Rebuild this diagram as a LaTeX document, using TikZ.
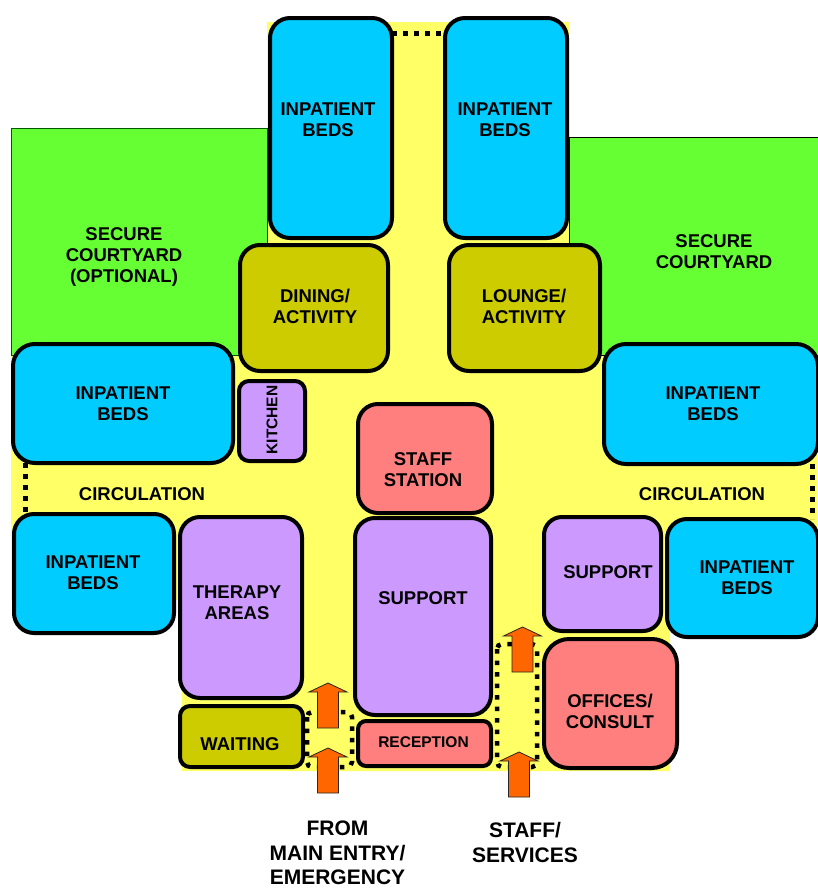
\documentclass[tikz,border=0pt]{standalone}
\usepackage{fontspec}
\setmainfont{Liberation Sans}
\definecolor{bedblue}{HTML}{00CCFF}
\definecolor{olivebox}{HTML}{CCCC00}
\definecolor{lilac}{HTML}{CC99FF}
\definecolor{salmon}{HTML}{FF7F7F}
\definecolor{corridor}{HTML}{FFFF66}
\definecolor{lawn}{HTML}{66FF33}
\definecolor{entryorange}{HTML}{FF6600}

% room box from its outer corners: name, style, x1, y1, x2, y2, corner radius
\newcommand\roombox[7]{%
  \node[#2, rounded corners=#7, minimum width={#5-#3-4}, minimum height={#6-#4-4}]
    (#1) at ({(#3+#5)/2},{(#4+#6)/2}) {};}

\tikzset{
  room/.style={draw=black, line width=4pt, inner sep=0pt, outer sep=0pt},
  bedroom/.style={room, fill=bedblue},
  dayroom/.style={room, fill=olivebox},
  suproom/.style={room, fill=lilac},
  staffroom/.style={room, fill=salmon},
  lbl/.style={font=\fontsize{18.5}{21}\selectfont\bfseries, align=center, inner sep=0pt},
  smalllbl/.style={font=\fontsize{15.5}{18}\selectfont\bfseries, align=center, inner sep=0pt},
  biglbl/.style={font=\fontsize{21}{24.5}\selectfont\bfseries, align=center, inner sep=0pt},
  linkdots/.style={line width=5pt, dash pattern=on 5pt off 6pt},
  entrydots/.style={line width=4.5pt, dash pattern=on 4.5pt off 7pt, rounded corners=5pt},
  pics/entryarrow/.style={code={
    \draw[fill=entryorange, draw=black!85, line width=0.8pt, line join=miter]
      (-10.5,0) -- (-10.5,-36) -- (-19,-36) -- (0,-45) -- (19,-36)
      -- (10.5,-36) -- (10.5,0) -- cycle;}}
}

\begin{document}
\begin{tikzpicture}[x=1pt, y=-1pt]
\useasboundingbox (0,0) rectangle (817,889);

% corridor floor
\fill[corridor] (267,22) -- (569,22) -- (569,355) -- (817,355) -- (817,600)
  -- (670,600) -- (670,771) -- (182,771) -- (182,600) -- (11,600)
  -- (11,355) -- (267,355) -- cycle;

% courtyards
\filldraw[fill=lawn, draw=green!35!black, line width=1pt] (11,128) rectangle (267,355);
\filldraw[fill=lawn, draw=black, line width=1pt] (569,137) rectangle (822,355);

% rooms
\roombox{bedTL}{bedroom}{268}{16}{394}{240}{20pt}
\roombox{bedTR}{bedroom}{443}{16}{569}{240}{20pt}
\roombox{dining}{dayroom}{238}{243}{390}{373}{20pt}
\roombox{lounge}{dayroom}{447}{243}{602}{373}{20pt}
\roombox{bedML}{bedroom}{11}{342}{235}{465}{22pt}
\roombox{kitchen}{suproom}{237}{379}{307}{463}{10pt}
\roombox{staff}{staffroom}{356}{402}{494}{515}{20pt}
\roombox{bedMR}{bedroom}{602}{342}{820}{466}{22pt}
\roombox{bedLL}{bedroom}{12}{512}{176}{635}{20pt}
\roombox{therapy}{suproom}{178}{515}{304}{700}{20pt}
\roombox{support}{suproom}{353}{516}{493}{717}{20pt}
\roombox{reception}{staffroom}{356}{719}{493}{768}{8pt}
\roombox{waiting}{dayroom}{178}{704}{305}{769}{10pt}
\roombox{supportR}{suproom}{542}{515}{663}{633}{18pt}
\roombox{bedLR}{bedroom}{665}{517}{820}{639}{20pt}
\roombox{offices}{staffroom}{542}{637}{679}{770}{25pt}

% dotted links between bed wings
\coordinate (toprow) at (0,33);
\coordinate (leftcol) at (25,0);
\coordinate (rightcol) at (812,0);
\draw[linkdots] (bedTL.east |- toprow) -- (bedTR.west |- toprow);
\draw[linkdots] (leftcol |- bedML.south) -- (leftcol |- bedLL.north);
\draw[linkdots] (rightcol |- bedMR.south) -- (rightcol |- bedLR.north);

% labels
\node[lbl] (l-bedTL) at (328,120) {INPATIENT\\BEDS};
\node[lbl] (l-bedTR) at (505,120) {INPATIENT\\BEDS};
\node[lbl] (l-yardL) at (124,257) {SECURE\\COURTYARD\\(OPTIONAL)};
\node[lbl] (l-yardR) at (714,252) {SECURE\\COURTYARD};
\node[lbl] (l-dining) at (315,306) {DINING/\\ACTIVITY};
\node[lbl] (l-lounge) at (524,306) {LOUNGE/\\ACTIVITY};
\node[lbl] (l-bedML) at (123,404) {INPATIENT\\BEDS};
\node[smalllbl, rotate=90] (l-kitchen) at (272,420) {KITCHEN};
\node[lbl] (l-staff) at (423,470) {STAFF\\STATION};
\node[lbl] (l-bedMR) at (713,404) {INPATIENT\\BEDS};
\node[lbl] (l-circL) at (142,494.5) {CIRCULATION};
\node[lbl] (l-circR) at (702,494) {CIRCULATION};
\node[lbl] (l-bedLL) at (93,573) {INPATIENT\\BEDS};
\node[lbl] (l-therapy) at (237,602.5) {THERAPY\\AREAS};
\node[lbl] (l-support) at (423,598) {SUPPORT};
\node[lbl] (l-waiting) at (240,744) {WAITING};
\node[smalllbl] (l-reception) at (423.5,742.5) {RECEPTION};
\node[lbl] (l-supportR) at (608,572) {SUPPORT};
\node[lbl] (l-bedLR) at (747,577.5) {INPATIENT\\BEDS};
\node[lbl] (l-offices) at (610,711) {OFFICES/\\CONSULT};

% entry passages
\draw[entrydots] (307,712) rectangle (352,767);
\draw[entrydots] (497,644) rectangle (537,767);

% entry arrows
\pic (mainIn) at (328,793) {entryarrow};
\pic (mainOn) at (328,728) {entryarrow};
\pic (staffIn) at (519,797) {entryarrow};
\pic (staffOn) at (522.5,672) {entryarrow};

\node[biglbl] (l-main) at (337.5,853) {FROM\\MAIN ENTRY/\\EMERGENCY};
\node[biglbl] (l-service) at (525,842.5) {STAFF/\\SERVICES};
\end{tikzpicture}
\end{document}
